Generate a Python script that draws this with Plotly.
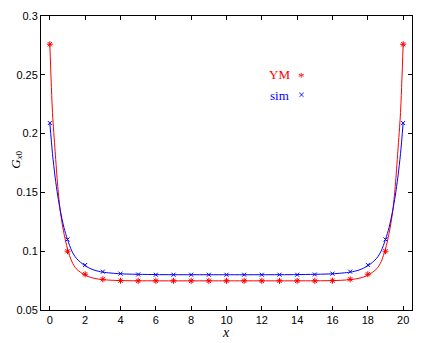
import plotly.graph_objects as go

# sample points (markers)
x_pts = [0, 1, 2, 3, 4, 5, 6, 7, 8, 9, 10, 11, 12, 13, 14, 15, 16, 17, 18, 19, 20]
ym_pts = [0.276, 0.100, 0.0804, 0.0761, 0.0749, 0.0748, 0.0748, 0.0748, 0.0748, 0.0748, 0.0748,
          0.0748, 0.0748, 0.0748, 0.0748, 0.0748, 0.0749, 0.0761, 0.0804, 0.100, 0.276]
sim_pts = [0.209, 0.110, 0.0883, 0.0826, 0.0809, 0.0802, 0.0800, 0.0800, 0.0800, 0.0800, 0.0800,
           0.0800, 0.0800, 0.0800, 0.0800, 0.0802, 0.0809, 0.0826, 0.0883, 0.110, 0.209]

# fitted curves
curve_x = [0, 0.15, 0.3, 0.45, 0.6, 0.8, 1, 1.25, 1.5, 2, 2.5, 3, 4,
           6, 8, 10, 12, 14,
           16, 17, 17.5, 18, 18.5, 18.75, 19, 19.2, 19.4, 19.55, 19.7, 19.85, 20]
ym_curve = [0.276, 0.218, 0.185, 0.155, 0.133, 0.115, 0.102, 0.091, 0.085, 0.0795, 0.0770, 0.0758, 0.0750,
            0.0748, 0.0748, 0.0748, 0.0748, 0.0748,
            0.0750, 0.0758, 0.0770, 0.0795, 0.085, 0.091, 0.102, 0.115, 0.133, 0.155, 0.185, 0.218, 0.276]
sim_curve = [0.209, 0.183, 0.163, 0.147, 0.134, 0.120, 0.110, 0.100, 0.094, 0.0875, 0.0840, 0.0822, 0.0808,
             0.0801, 0.0800, 0.0800, 0.0800, 0.0801,
             0.0808, 0.0822, 0.0840, 0.0875, 0.094, 0.100, 0.110, 0.120, 0.134, 0.147, 0.163, 0.183, 0.209]

RED = "#ff0000"
BLUE = "#0000ff"
SERIF = "Liberation Serif"

fig = go.Figure()
fig.add_trace(go.Scatter(x=curve_x, y=ym_curve, mode="lines",
                         line=dict(color=RED, width=1, shape="spline", smoothing=0.8),
                         showlegend=False, hoverinfo="skip"))
fig.add_trace(go.Scatter(x=curve_x, y=sim_curve, mode="lines",
                         line=dict(color=BLUE, width=1, shape="spline", smoothing=0.8),
                         showlegend=False, hoverinfo="skip"))
fig.add_trace(go.Scatter(x=x_pts, y=ym_pts, mode="markers", name="YM",
                         marker=dict(symbol="asterisk-open", size=5, color=RED,
                                     line=dict(width=1, color=RED)),
                         showlegend=False))
fig.add_trace(go.Scatter(x=x_pts, y=sim_pts, mode="markers", name="sim",
                         marker=dict(symbol="x-thin-open", size=4, color=BLUE,
                                     line=dict(width=1, color=BLUE)),
                         showlegend=False))

axis_common = dict(showline=True, linecolor="#000000", linewidth=1, mirror="ticks",
                   ticks="inside", ticklen=4, tickcolor="#000000", showgrid=False,
                   zeroline=False, automargin=False,
                   tickfont=dict(family="Liberation Sans", size=11, color="#000000"))

fig.update_xaxes(range=[-0.5, 20.5], tickmode="array", tickvals=list(range(0, 21, 2)), **axis_common)
fig.update_yaxes(range=[0.05, 0.3], tickmode="array",
                 tickvals=[0.05, 0.1, 0.15, 0.2, 0.25, 0.3],
                 ticktext=["0.05", "0.1", "0.15", "0.2", "0.25", "0.3"], **axis_common)

annotations = [
    # legend
    dict(x=0.644, y=0.80, text="YM", font=dict(family=SERIF, size=13, color=RED)),
    dict(x=0.701, y=0.795, text="*", font=dict(family=SERIF, size=13, color=RED)),
    dict(x=0.644, y=0.731, text="sim", font=dict(family=SERIF, size=13, color=BLUE)),
    dict(x=0.701, y=0.731, text="×", font=dict(family=SERIF, size=12, color=BLUE)),
    # axis titles
    dict(x=0.499, y=-0.075, text="<i>x</i>", font=dict(family=SERIF, size=14, color="#000000")),
    dict(x=-0.068, y=0.51, text="<i>G</i><sub><i>x</i>0</sub>", textangle=-90,
         font=dict(family=SERIF, size=13, color="#000000")),
]
for a in annotations:
    a.update(xref="paper", yref="paper", showarrow=False, xanchor="center", yanchor="middle")

# the page body adds an 8px margin, so the figure is sized and offset for it
fig.update_layout(
    width=417, height=335,
    margin=dict(l=33, r=13, t=8, b=33),
    paper_bgcolor="white", plot_bgcolor="white",
    annotations=annotations,
)

fig.write_html("out.html")
